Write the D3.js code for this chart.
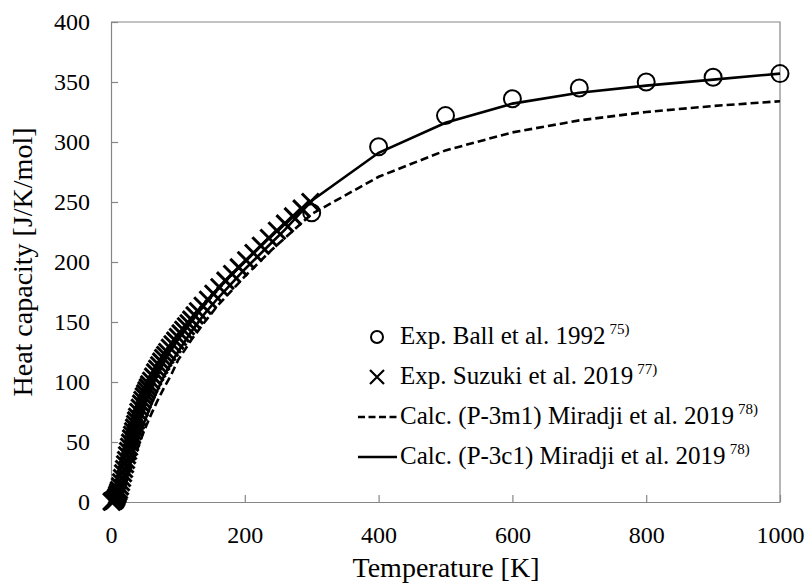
<!DOCTYPE html>
<html lang="en">
<head>
<meta charset="utf-8">
<title>Heat capacity</title>
<script src="https://cdn.jsdelivr.net/npm/d3@7"></script>
<style>
  body { margin: 0; background: #fff; }
  svg text { font-family: "Liberation Serif", "Times New Roman", serif; }
</style>
</head>
<body>
<script>
// Exp. Ball et al. 1992 (circles)
const ballT = [300, 400, 500, 600, 700, 800, 900, 1000];
const ballCp = [241, 296, 322, 336, 345, 350, 354, 357];

// Exp. Suzuki et al. 2019 (crosses), dense at low T
const suzukiT = [1, 2, 3, 4, 5, 6, 7, 8, 9, 10, 11, 12, 13.5, 15, 16.5, 18, 19.5, 21, 22.5, 24,
  25.5, 27, 28.5, 30, 31.5, 33, 34.5, 36, 37.5, 39, 41, 43, 45, 47, 49, 51, 53, 55, 57, 60,
  63, 66, 69, 72, 75, 78, 81, 84, 88, 92, 96, 100, 104, 108, 112, 116, 120, 125, 130, 137,
  145, 153, 162, 171, 181, 191, 202, 213, 224, 236, 248, 260, 272, 285, 298];
const suzukiCp = [0.3, 0.5, 1, 1, 1.5, 2, 3, 4, 5.5, 7, 8.5, 10, 13, 16.5, 20, 24, 27.5, 31.5, 35, 39,
  42.5, 46, 49.5, 53, 56, 59, 62, 65, 68, 71, 75, 78.5, 82, 85, 88, 90.5, 93, 95.5, 98, 101,
  104.5, 108, 111, 114, 117, 120, 122.5, 125, 128.5, 131.5, 134.5, 137.5, 140.5, 143.5, 146.5, 149, 152, 155.5, 159, 163.5,
  168.5, 173.5, 179, 184.5, 190, 195.5, 201.5, 207.5, 213.5, 220, 226, 232, 238, 244.5, 250];

// calculations, Miradji et al. 2019
const calcT = [0, 10, 20, 30, 40, 50, 60, 70, 80, 90, 100, 120, 140, 160, 180, 200, 220, 240, 260, 280,
  300, 400, 500, 600, 700, 800, 900, 1000];
const p3m1Cp = [0, 2, 13, 29, 45, 60, 73, 85, 96, 106, 118, 135, 150, 164, 176, 188, 199, 210, 220, 230,
  240, 271, 293, 308, 318, 325, 330, 334];
const p3c1Cp = [0, 3, 17, 35, 52, 67, 81, 94, 106, 116, 125, 142, 157, 170, 182, 194, 205, 216, 227, 239,
  251, 291, 316, 332, 341, 347, 352, 357];

const xTicks = [0, 200, 400, 600, 800, 1000];
const yTicks = [0, 50, 100, 150, 200, 250, 300, 350, 400];

const legendItems = [
  { type: 'circle', text: 'Exp. Ball et al. 1992', sup: '75)' },
  { type: 'cross', text: 'Exp. Suzuki et al. 2019', sup: '77)' },
  { type: 'dash', text: 'Calc. (P-3m1) Miradji et al. 2019', sup: '78)' },
  { type: 'solid', text: 'Calc. (P-3c1) Miradji et al. 2019', sup: '78)' }
];

const W = 808, H = 583;
const axisGray = '#868686';
const serif = '"Liberation Serif", "Times New Roman", serif';

const svg = d3.select('body').append('svg')
  .attr('width', W)
  .attr('height', H);

const x = d3.scaleLinear().domain([0, 1000]).range([111, 780]);
const y = d3.scaleLinear().domain([0, 400]).range([502, 22]);

// frame
svg.append('path')
  .attr('d', `M${x(0)},${y(400)}H${x(1000)}V${y(0)}`)
  .attr('fill', 'none')
  .attr('stroke', axisGray)
  .attr('stroke-width', 1.2);

const xAxis = svg.append('g')
  .attr('transform', `translate(0,${y(0)})`)
  .call(d3.axisBottom(x).tickValues(xTicks).tickFormat(d3.format('d'))
    .tickSizeInner(-7).tickSizeOuter(0).tickPadding(24));

const yAxis = svg.append('g')
  .attr('transform', `translate(${x(0)},0)`)
  .call(d3.axisLeft(y).tickValues(yTicks).tickFormat(d3.format('d'))
    .tickSizeInner(-7).tickSizeOuter(0).tickPadding(21));

[xAxis, yAxis].forEach(g => {
  g.attr('font-family', serif).attr('font-size', 24);
  g.select('.domain').attr('stroke', axisGray).attr('stroke-width', 1.2);
  g.selectAll('.tick line').attr('stroke', axisGray).attr('stroke-width', 1.2);
  g.selectAll('.tick text').attr('fill', '#000');
});

// axis titles
svg.append('text')
  .attr('x', 446)
  .attr('y', 577)
  .attr('text-anchor', 'middle')
  .attr('font-size', 28)
  .text('Temperature [K]');

svg.append('text')
  .attr('transform', 'translate(32,262) rotate(-90)')
  .attr('text-anchor', 'middle')
  .attr('font-size', 28)
  .text('Heat capacity [J/K/mol]');

// calculated curves
const line = d3.line()
  .x(d => x(d[0]))
  .y(d => y(d[1]));

svg.append('path')
  .datum(calcT.map((t, i) => [t, p3m1Cp[i]]))
  .attr('d', line)
  .attr('fill', 'none')
  .attr('stroke', '#000')
  .attr('stroke-width', 2.6)
  .attr('stroke-dasharray', '8,4');

svg.append('path')
  .datum(calcT.map((t, i) => [t, p3c1Cp[i]]))
  .attr('d', line)
  .attr('fill', 'none')
  .attr('stroke', '#000')
  .attr('stroke-width', 2.6);

// crosses
function crossPath(cx, cy, s) {
  return `M${cx - s},${cy - s}L${cx + s},${cy + s}M${cx - s},${cy + s}L${cx + s},${cy - s}`;
}

svg.append('g')
  .selectAll('path')
  .data(suzukiT.map((t, i) => [t, suzukiCp[i]]))
  .enter()
  .append('path')
  .attr('d', d => crossPath(x(d[0]), y(d[1]), 8.5))
  .attr('stroke', '#000')
  .attr('stroke-width', 3)
  .attr('fill', 'none');

// circles
svg.append('g')
  .selectAll('circle')
  .data(ballT.map((t, i) => [t, ballCp[i]]))
  .enter()
  .append('circle')
  .attr('cx', d => x(d[0]))
  .attr('cy', d => y(d[1]))
  .attr('r', 8.5)
  .attr('fill', 'none')
  .attr('stroke', '#000')
  .attr('stroke-width', 2);

// legend
const legend = svg.append('g').attr('transform', 'translate(0,337)');
legendItems.forEach((item, i) => {
  const g = legend.append('g').attr('transform', `translate(0,${i * 40})`);
  if (item.type === 'circle') {
    g.append('circle').attr('cx', 377).attr('cy', 0).attr('r', 6)
      .attr('fill', 'none').attr('stroke', '#000').attr('stroke-width', 2);
  } else if (item.type === 'cross') {
    g.append('path').attr('d', crossPath(377, 0, 7))
      .attr('stroke', '#000').attr('stroke-width', 2.2).attr('fill', 'none');
  } else {
    g.append('line').attr('x1', 358).attr('x2', 397).attr('y1', 0).attr('y2', 0)
      .attr('stroke', '#000').attr('stroke-width', 2.6)
      .attr('stroke-dasharray', item.type === 'dash' ? '7,3.5' : null);
  }
  const t = g.append('text')
    .attr('x', 400)
    .attr('y', 7)
    .attr('font-size', 25);
  t.append('tspan').text(item.text);
  t.append('tspan')
    .attr('dx', 4)
    .attr('dy', -10)
    .attr('font-size', 15)
    .text(item.sup);
});
</script>
</body>
</html>
